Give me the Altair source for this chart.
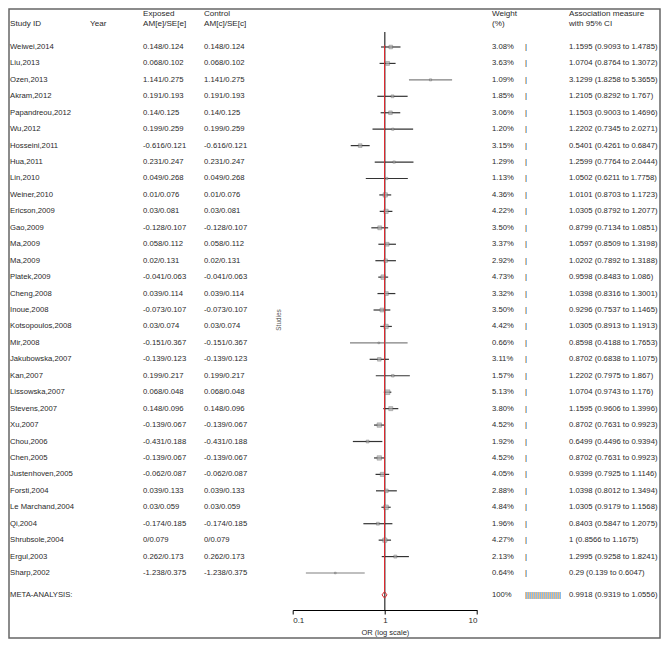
import altair as alt
import pandas as pd

studies = ["Weiwei,2014", "Liu,2013", "Ozen,2013", "Akram,2012", "Papandreou,2012", "Wu,2012",
           "Hosseini,2011", "Hua,2011", "Lin,2010", "Weiner,2010", "Ericson,2009", "Gao,2009",
           "Ma,2009", "Ma,2009", "Platek,2009", "Cheng,2008", "Inoue,2008", "Kotsopoulos,2008",
           "Mir,2008", "Jakubowska,2007", "Kan,2007", "Lissowska,2007", "Stevens,2007", "Xu,2007",
           "Chou,2006", "Chen,2005", "Justenhoven,2005", "Forsti,2004", "Le Marchand,2004",
           "Qi,2004", "Shrubsole,2004", "Ergul,2003", "Sharp,2002"]
am_se = ["0.148/0.124", "0.068/0.102", "1.141/0.275", "0.191/0.193", "0.14/0.125", "0.199/0.259",
         "-0.616/0.121", "0.231/0.247", "0.049/0.268", "0.01/0.076", "0.03/0.081", "-0.128/0.107",
         "0.058/0.112", "0.02/0.131", "-0.041/0.063", "0.039/0.114", "-0.073/0.107", "0.03/0.074",
         "-0.151/0.367", "-0.139/0.123", "0.199/0.217", "0.068/0.048", "0.148/0.096", "-0.139/0.067",
         "-0.431/0.188", "-0.139/0.067", "-0.062/0.087", "0.039/0.133", "0.03/0.059", "-0.174/0.185",
         "0/0.079", "0.262/0.173", "-1.238/0.375"]
weights = [3.08, 3.63, 1.09, 1.85, 3.06, 1.20, 3.15, 1.29, 1.13, 4.36, 4.22, 3.50, 3.37, 2.92,
           4.73, 3.32, 3.50, 4.42, 0.66, 3.11, 1.57, 5.13, 3.80, 4.52, 1.92, 4.52, 4.05, 2.88,
           4.84, 1.96, 4.27, 2.13, 0.64]
or_est = [1.1595, 1.0704, 3.1299, 1.2105, 1.1503, 1.2202, 0.5401, 1.2599, 1.0502, 1.0101, 1.0305,
          0.8799, 1.0597, 1.0202, 0.9598, 1.0398, 0.9296, 1.0305, 0.8598, 0.8702, 1.2202, 1.0704,
          1.1595, 0.8702, 0.6499, 0.8702, 0.9399, 1.0398, 1.0305, 0.8403, 1.0, 1.2995, 0.29]
ci_lo = [0.9093, 0.8764, 1.8258, 0.8292, 0.9003, 0.7345, 0.4261, 0.7764, 0.6211, 0.8703, 0.8792,
         0.7134, 0.8509, 0.7892, 0.8483, 0.8316, 0.7537, 0.8913, 0.4188, 0.6838, 0.7975, 0.9743,
         0.9606, 0.7631, 0.4496, 0.7631, 0.7925, 0.8012, 0.9179, 0.5847, 0.8566, 0.9258, 0.139]
ci_hi = [1.4785, 1.3072, 5.3655, 1.767, 1.4696, 2.0271, 0.6847, 2.0444, 1.7758, 1.1723, 1.2077,
         1.0851, 1.3198, 1.3188, 1.086, 1.3001, 1.1465, 1.1913, 1.7653, 1.1075, 1.867, 1.176,
         1.3996, 0.9923, 0.9394, 0.9923, 1.1146, 1.3494, 1.1568, 1.2075, 1.1675, 1.8241, 0.6047]

meta_label = "META-ANALYSIS:"
meta_weight = "100%"
meta_or, meta_lo, meta_hi = 0.9918, 0.9319, 1.0556

n = len(studies)
meta_row = n + 0.33

df = pd.DataFrame({
    "study": studies, "amse": am_se, "weight": weights,
    "or": or_est, "lo": ci_lo, "hi": ci_hi, "row": list(range(n)),
})
df["wlbl"] = [f"{w:.2f}%" for w in weights]
df["assoc"] = [f"{o:g} ({l:g} to {h:g})" for o, l, h in zip(or_est, ci_lo, ci_hi)]
df["bar"] = "|"

FONT = "Liberation Sans"
FS = 7.7
HFS = 8.1
TC = "#2a2a2a"

xs = alt.Scale(type="log", domain=[0.1, 10], nice=False)
ys = alt.Scale(domain=[-0.912, 34.25], reverse=True, nice=False, zero=False)

base = alt.Chart(df)
Y = alt.Y("row:Q", scale=ys, axis=None)

# plot-area coordinates: plot left is at page x 292.7, plot top at page y 32
PL = 292.7
PT = 32.0

def col_text(field, page_x):
    return base.mark_text(align="left", baseline="middle", font=FONT, fontSize=FS, color=TC).encode(
        x=alt.value(page_x - PL), y=Y, text=f"{field}:N")

cols = [col_text("study", 10), col_text("amse", 143), col_text("amse", 204),
        col_text("wlbl", 492), col_text("bar", 525), col_text("assoc", 569)]

hdr = pd.DataFrame({
    "t": ["Study ID", "Year", "Exposed", "AM[e]/SE[e]", "Control", "AM[c]/SE[c]",
          "Weight", "(%)", "Association measure", "with 95% CI"],
    "px": [10, 90, 143, 143, 204, 204, 492, 492, 569, 569],
    "py": [23.5, 23.5, 14.2, 23.5, 14.2, 23.5, 14.2, 23.5, 14.2, 23.5],
})
hdr["xp"] = hdr["px"] - PL
hdr["yp"] = hdr["py"] - PT
header = alt.Chart(hdr).mark_text(align="left", baseline="middle", font=FONT, fontSize=HFS, color=TC).encode(
    x=alt.X("xp:Q", scale=None), y=alt.Y("yp:Q", scale=None), text="t:N")

meta_df = pd.DataFrame({"row": [meta_row], "lab": [meta_label], "w": [meta_weight],
                        "bars": ["|" * 18],
                        "assoc": [f"{meta_or:g} ({meta_lo:g} to {meta_hi:g})"]})
mbase = alt.Chart(meta_df)
meta_txt = [
    mbase.mark_text(align="left", baseline="middle", font=FONT, fontSize=FS, color=TC).encode(
        x=alt.value(10 - PL), y=Y, text="lab:N"),
    mbase.mark_text(align="left", baseline="middle", font=FONT, fontSize=FS, color=TC).encode(
        x=alt.value(492 - PL), y=Y, text="w:N"),
    mbase.mark_text(align="left", baseline="middle", font=FONT, fontSize=FS, color=TC).encode(
        x=alt.value(525 - PL), y=Y, text="bars:N"),
    mbase.mark_text(align="left", baseline="middle", font=FONT, fontSize=FS, color=TC).encode(
        x=alt.value(569 - PL), y=Y, text="assoc:N"),
]

null_line = alt.Chart(pd.DataFrame({"v": [1.0]})).mark_rule(color="black", strokeWidth=1).encode(
    x=alt.X("v:Q", scale=xs))

red_line = alt.Chart(pd.DataFrame({"v": [meta_or], "y1": [-0.1], "y2": [meta_row - 0.2]})).mark_rule(
    color="#e0282e", strokeWidth=1).encode(
    x=alt.X("v:Q", scale=xs), y=alt.Y("y1:Q", scale=ys, axis=None), y2="y2:Q")

ci = base.mark_rule(strokeWidth=1.2).encode(
    x=alt.X("lo:Q", scale=xs,
            axis=alt.Axis(values=[0.1, 1, 10], format="~g", title="OR (log scale)", grid=False,
                          domainColor="black", tickColor="black", tickSize=4, labelPadding=2,
                          labelFont=FONT, labelFontSize=8, labelColor=TC, titleFont=FONT,
                          titleFontSize=7.5, titleFontWeight="normal", titleColor=TC, titlePadding=4)),
    x2="hi:Q", y=Y,
    color=alt.condition(alt.datum.weight < 1.1, alt.value("#808080"), alt.value("#333333")))

boxes = base.mark_square(filled=True, color="#b0b0b0", stroke="#555555", strokeWidth=0.5).encode(
    x=alt.X("or:Q", scale=xs), y=Y,
    size=alt.Size("weight:Q", scale=alt.Scale(domain=[0, 5.13], range=[0, 22]), legend=None))

dh = 0.2
dia = pd.DataFrame({"x": [meta_lo, meta_or, meta_hi, meta_or, meta_lo],
                    "y": [meta_row, meta_row - dh, meta_row, meta_row + dh, meta_row],
                    "o": [0, 1, 2, 3, 4]})
diamond = alt.Chart(dia).mark_line(color="#e0282e", strokeWidth=1).encode(
    x=alt.X("x:Q", scale=xs), y=alt.Y("y:Q", scale=ys, axis=None), order="o:Q")

studies_lbl = alt.Chart(pd.DataFrame({"t": ["Studies"]})).mark_text(
    angle=270, font=FONT, fontSize=6.4, color="#555555", baseline="middle", align="center").encode(
    x=alt.value(279 - PL), y=alt.value(320 - PT), text="t:N")

W = 184.3
H = 578
padL, padT = PL - 8, PT - 8
padR = 653 - padL - W
padB = 631 - padT - H

frame = alt.Chart(pd.DataFrame({"a": [0]})).mark_rect(fillOpacity=0, stroke="#666666", strokeWidth=1.5).encode(
    x=alt.value(-padL + 1), x2=alt.value(W + padR - 1),
    y=alt.value(-padT + 1), y2=alt.value(H + padB - 1))

chart = alt.layer(frame, null_line, ci, boxes, red_line, diamond, header, studies_lbl,
                  *cols, *meta_txt).properties(
    width=W, height=H,
    autosize=alt.AutoSizeParams(type="none"),
    padding={"left": padL, "top": padT, "right": padR, "bottom": padB},
    background="white",
).configure_view(stroke="transparent")

chart.save("out.html", embed_options={"renderer": "svg", "actions": False})
